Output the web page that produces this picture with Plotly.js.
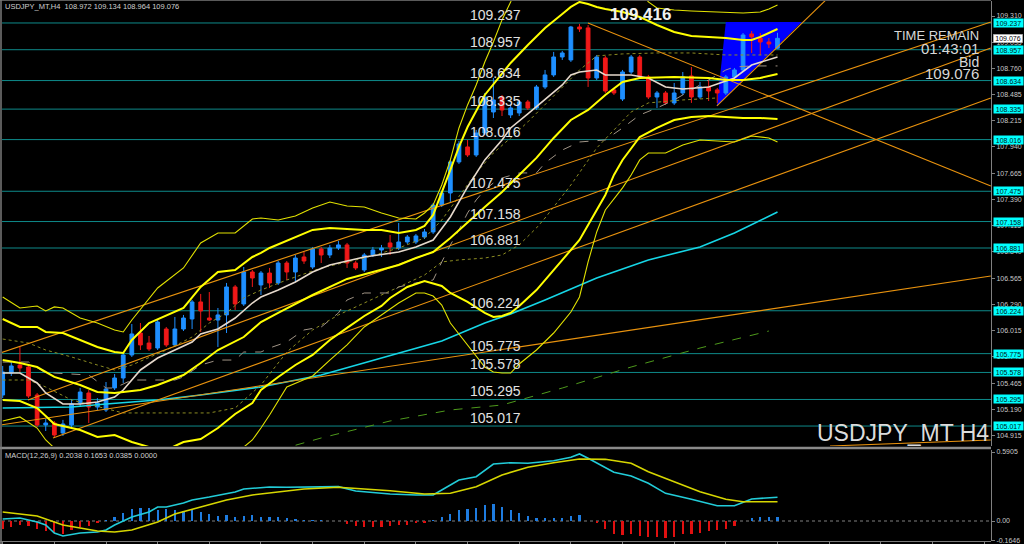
<!DOCTYPE html>
<html><head><meta charset="utf-8">
<script src="https://cdn.plot.ly/plotly-3.0.1.min.js"></script>
<style>html,body{margin:0;padding:0;background:#000;}#chart{width:1024px;height:544px;}</style>
</head><body><div id="chart"></div>
<script>
// ---------- candles (H4 bars, index 0..90) ----------
const openP = [105.342,105.572,105.656,105.635,105.342,105.028,105.049,104.944,105.028,105.258,
105.363,105.216,105.185,105.416,105.520,105.761,105.991,105.886,105.834,106.033,
105.866,106.033,106.138,106.316,106.148,106.127,106.180,106.473,106.295,106.630,
106.494,106.619,106.515,106.724,106.630,106.787,106.682,106.871,106.808,106.881,
106.913,106.724,106.651,106.808,106.860,106.934,106.881,106.944,106.944,106.996,
107.049,107.331,107.457,107.782,107.939,107.855,108.085,108.305,108.462,108.274,
108.295,108.410,108.347,108.567,108.693,108.881,108.850,109.195,109.185,108.661,
108.871,108.536,108.441,108.724,108.881,108.672,108.462,108.504,108.400,108.504,
108.682,108.462,108.567,108.536,108.504,108.672,108.745,109.122,109.080,109.038,108.972];
const highP = [105.646,105.688,105.845,105.656,105.363,105.091,105.070,105.081,105.300,105.416,
105.394,105.310,105.478,105.562,105.792,106.085,106.096,105.960,106.127,106.054,
106.159,106.180,106.337,106.400,106.420,106.253,106.515,106.494,106.682,106.651,
106.640,106.672,106.745,106.745,106.808,106.839,106.892,106.892,106.913,106.955,
106.934,106.745,106.829,106.892,106.913,107.017,107.143,107.017,107.028,107.080,
107.352,107.478,107.803,108.002,108.012,108.117,108.504,108.661,108.483,108.379,
108.431,108.431,108.588,108.745,108.934,108.944,109.206,109.227,109.216,108.902,
108.892,108.557,108.745,108.902,108.902,108.693,108.525,108.525,108.609,108.724,
108.776,108.619,108.640,108.557,108.693,108.766,109.132,109.153,109.132,109.080,109.134];
const lowP = [105.310,105.541,105.583,105.310,105.007,104.965,104.902,104.913,104.996,105.227,
105.049,105.185,105.164,105.394,105.468,105.740,105.813,105.803,105.813,105.845,
105.845,106.012,106.033,106.002,106.117,105.845,105.991,106.232,106.274,106.473,
106.389,106.462,106.494,106.546,106.525,106.714,106.661,106.724,106.776,106.860,
106.672,106.651,106.630,106.787,106.787,106.808,106.860,106.923,106.923,106.975,
107.028,107.310,107.352,107.761,107.834,107.834,108.064,108.242,108.263,108.242,
108.263,108.326,108.326,108.546,108.672,108.850,108.829,109.143,108.567,108.640,
108.504,108.483,108.420,108.703,108.651,108.441,108.347,108.379,108.379,108.483,
108.400,108.441,108.420,108.400,108.483,108.651,108.724,108.923,108.902,108.975,108.964];
const closeP = [105.583,105.646,105.625,105.331,105.028,105.049,104.923,105.038,105.248,105.373,
105.216,105.258,105.405,105.520,105.761,105.981,105.866,105.824,106.106,105.866,
106.033,106.148,106.316,106.222,106.127,106.180,106.473,106.295,106.630,106.567,
106.619,106.515,106.724,106.630,106.776,106.745,106.871,106.808,106.881,106.913,
106.724,106.672,106.808,106.860,106.881,106.892,106.944,106.996,107.007,107.049,
107.331,107.457,107.782,107.970,107.855,108.085,108.462,108.431,108.326,108.347,
108.410,108.347,108.567,108.693,108.881,108.923,109.195,109.174,108.661,108.881,
108.525,108.504,108.724,108.881,108.672,108.462,108.504,108.400,108.504,108.672,
108.462,108.567,108.525,108.504,108.672,108.745,109.111,109.091,109.038,109.017,109.076];
const bars = openP.map((_, i) => i);

// ---------- Bollinger-style bands (yellow) ----------
const bbUp3X = [0,2,4,5,6,7,9,11,13,14,15,18,21,23,25,27,29,30,32,34,36,38,40,42,44,46,48,49,50,51,52,53,54,55,56,57,58,59,60,62,66,70,72,74,75,76,78,80,84,86,88,89,90];
const bbUp3Y = [106.368,106.253,106.274,106.222,106.264,106.253,106.148,106.096,106.023,106.002,106.127,106.462,106.672,106.934,107.038,107.038,107.185,107.195,107.174,107.216,107.300,107.363,107.321,107.310,107.248,107.195,107.185,107.248,107.331,107.541,107.803,108.138,108.379,108.588,108.829,109.038,109.269,109.457,109.687,109.992,110.420,110.106,109.844,109.583,109.457,109.394,109.373,109.363,109.352,109.342,109.352,109.384,109.426];
const bbUp2X = [0,2,4,5,7,9,11,13,14,15,17,21,23,25,27,29,30,31,36,38,42,44,46,48,49,50,51,52,53,54,56,57,58,59,61,63,65,66,67,68,69,70,72,74,76,78,80,82,84,86,87,88,89,90];
const bbUp2Y = [106.138,106.054,106.054,106.002,105.991,105.918,105.845,105.792,105.782,105.918,106.096,106.253,106.473,106.630,106.651,106.787,106.829,106.881,107.070,107.091,107.070,107.070,107.038,107.070,107.112,107.227,107.457,107.698,107.939,108.148,108.483,108.598,108.703,108.818,109.007,109.185,109.331,109.405,109.457,109.436,109.405,109.384,109.352,109.300,109.216,109.143,109.101,109.091,109.080,109.059,109.059,109.091,109.132,109.174];
const bbMidX = [0,2,4,6,9,11,13,16,18,21,23,25,28,30,32,36,40,44,46,48,50,52,54,56,58,60,62,64,66,68,70,72,74,78,82,84,86,88,90];
const bbMidY = [105.708,105.677,105.635,105.531,105.447,105.373,105.363,105.394,105.447,105.551,105.677,105.813,105.949,106.106,106.201,106.389,106.557,106.651,106.703,106.776,106.839,106.986,107.153,107.310,107.468,107.646,107.824,108.033,108.221,108.326,108.483,108.619,108.661,108.672,108.661,108.640,108.640,108.661,108.703];
const bbLo2X = [0,2,4,6,9,11,13,15,17,19,21,23,25,27,29,30,32,34,36,38,40,42,44,45,47,49,51,52,54,56,57,58,59,60,62,63,64,66,67,68,70,71,72,74,76,78,80,82,84,86,88,90];
const bbLo2Y = [105.290,105.279,105.206,105.038,104.976,104.902,104.923,104.850,104.797,104.766,104.850,104.881,104.996,105.143,105.258,105.394,105.531,105.656,105.761,105.918,106.044,106.169,106.274,106.358,106.473,106.536,106.483,106.410,106.316,106.201,106.159,106.169,106.201,106.274,106.441,106.546,106.651,106.860,106.965,107.122,107.436,107.646,107.803,108.043,108.138,108.221,108.253,108.263,108.253,108.242,108.242,108.232];
const bbLo3X = [0,2,4,5,6,9,11,13,15,18,21,23,25,27,28,29,30,31,33,35,36,38,40,42,44,46,48,49,50,51,52,54,55,56,57,58,59,60,62,64,66,67,68,69,70,72,73,74,75,77,79,81,83,85,87,89,90];
const bbLo3Y = [105.070,105.112,104.996,104.871,104.787,104.714,104.640,104.661,104.578,104.452,104.505,104.557,104.682,104.745,104.797,104.871,104.996,105.132,105.426,105.499,105.541,105.708,105.866,106.054,106.180,106.305,106.410,106.410,106.378,106.284,106.096,105.866,105.740,105.635,105.583,105.572,105.572,105.667,105.813,105.991,106.211,106.368,106.735,107.049,107.279,107.510,107.646,107.803,107.876,107.876,107.960,108.012,108.002,107.991,108.054,108.033,107.991];

// ---------- moving averages ----------
const fastMaX = [0,2,4,5,7,9,11,13,14,16,18,20,22,23,25,27,29,30,32,34,36,38,42,46,48,50,52,54,56,58,59,61,63,65,66,67,69,70,73,75,77,79,82,85,87,90];
const fastMaY = [105.572,105.572,105.468,105.363,105.248,105.248,105.269,105.321,105.394,105.604,105.729,105.813,105.897,105.981,106.033,106.148,106.305,106.368,106.441,106.525,106.630,106.703,106.787,106.839,106.892,106.965,107.206,107.520,107.803,108.012,108.138,108.284,108.431,108.588,108.693,108.724,108.745,108.693,108.693,108.661,108.567,108.546,108.567,108.661,108.797,108.881];
const stepMaX = [0,3,5,6,10,12,13,15,20,21,23,25,27,28,30,31,33,35,37,39,40,42,45,46,48,50,51,52,53,54,55,56,57,58,60,62,63,65,67,70,72,74,76,78,80,82,84,85,87,90];
const stepMaY = [105.687,105.687,105.572,105.572,105.551,105.415,105.415,105.499,105.499,105.531,105.656,105.708,105.708,105.792,105.792,105.834,105.897,106.023,106.054,106.201,106.337,106.410,106.410,106.473,106.515,106.546,106.735,106.913,107.070,107.248,107.384,107.489,107.562,107.614,107.667,107.667,107.771,107.907,107.991,108.012,108.138,108.274,108.347,108.431,108.536,108.640,108.745,108.776,108.787,108.787];
const dotAX = [0,3,5,8,11,13,15,19,22,24,26,28,30,33,37,42,46,49,51,53,55,57,59,61,63,65,67,69,72,76,80,84,90];
const dotAY = [105.928,105.886,105.813,105.740,105.656,105.604,105.656,105.813,105.949,106.096,106.201,106.358,106.441,106.546,106.672,106.776,106.881,106.986,107.174,107.415,107.667,107.876,108.033,108.201,108.379,108.557,108.745,108.892,108.913,108.923,108.923,108.902,108.902];
const dotBX = [0,3,5,8,14,24,27,30,33,36,39,42,46,49,51,53,56,58,60,62,63,66,69,71,73,75,79,83];
const dotBY = [105.499,105.499,105.426,105.290,105.154,105.154,105.206,105.447,105.792,106.023,106.180,106.305,106.473,106.598,106.735,106.756,106.776,106.808,106.913,107.091,107.195,107.541,107.928,108.117,108.305,108.400,108.431,108.452];
const cyanMaX = [0,8,12,18,23,30,37,44,51,56,59,63,69,75,81,85,90];
const cyanMaY = [105.206,105.216,105.248,105.290,105.342,105.426,105.551,105.729,105.907,106.096,106.190,106.337,106.567,106.756,106.892,107.038,107.258];
const greenMaX = [30,33,37,45,52,58,65,73,81,89];
const greenMaY = [104.714,104.787,104.892,105.070,105.185,105.237,105.415,105.635,105.834,106.012];

// ---------- trend lines (bar index, price) ----------
const trendLines = [
  {x:[-0.31,114.78], y:[105.782,109.248]},
  {x:[2.94,114.78],  y:[105.290,108.975]},
  {x:[5.84,114.78],  y:[104.892,108.452]},
  {x:[-0.31,114.78], y:[105.028,106.588]},
  {x:[67.98,114.78], y:[109.237,107.530]},
  {x:[82.96,95.62],  y:[108.368,109.478]},
  {x:[96.1,114.78],  y:[104.808,104.871]}
];
const triX = [82.96, 84.0, 92.83];
const triY = [108.368, 109.248, 109.248];

// ---------- horizontal levels ----------
const levels = [109.237,108.957,108.634,108.335,108.016,107.475,107.158,106.881,106.224,105.775,105.578,105.295,105.017];
const bidPrice = 109.076;
const priceTicks = [109.310,109.035,108.760,108.485,108.215,107.940,107.665,107.390,107.115,106.840,106.565,106.290,106.015,105.740,105.465,105.190,104.915];

// ---------- MACD(12,26,9) ----------
const macdHist = [-0.068,-0.051,-0.034,-0.043,-0.068,-0.086,-0.103,-0.111,-0.077,-0.051,
-0.043,-0.017,0.009,0.034,0.068,0.103,0.111,0.111,0.094,0.103,
0.094,0.086,0.094,0.077,0.060,0.043,0.051,0.034,0.043,0.051,
0.034,0.034,0.034,0.023,0.017,0.009,0.009,0.006,0.003,0.002,
-0.026,-0.043,-0.051,-0.051,-0.051,-0.043,-0.034,-0.034,-0.017,-0.017,
0.009,0.034,0.060,0.094,0.103,0.111,0.137,0.146,0.120,0.094,
0.068,0.043,0.026,0.026,0.026,0.026,0.043,0.051,0.000,-0.017,
-0.068,-0.111,-0.120,-0.111,-0.128,-0.137,-0.137,-0.146,-0.137,-0.111,
-0.111,-0.103,-0.086,-0.077,-0.068,-0.043,0.000,0.026,0.034,0.034,0.0385];
const macdX = [0,2,4,5,6,7,9,11,12,13,15,17,18,19,21,22,24,27,28,31,33,36,39,41,45,48,50,51,53,55,57,59,61,64,66,67,68,71,73,75,77,80,83,85,87,90];
const macdY = [0.017,0.026,-0.009,-0.034,-0.103,-0.128,-0.103,-0.094,-0.077,-0.034,0.034,0.077,0.120,0.120,0.154,0.180,0.205,0.248,0.274,0.291,0.289,0.294,0.294,0.257,0.231,0.223,0.223,0.265,0.351,0.379,0.488,0.499,0.494,0.516,0.545,0.574,0.537,0.417,0.385,0.323,0.237,0.186,0.131,0.131,0.188,0.2038];
const sigX = [0,4,7,9,11,13,15,18,20,23,26,29,32,35,39,45,49,52,55,58,61,64,67,70,73,75,78,81,84,86,90];
const sigY = [0.077,0.043,-0.034,-0.060,-0.086,-0.094,-0.077,-0.009,0.060,0.120,0.180,0.223,0.248,0.274,0.289,0.259,0.231,0.237,0.294,0.394,0.460,0.499,0.531,0.528,0.494,0.422,0.336,0.251,0.186,0.165,0.1653];
const macdTicks = [0.5905, 0, -0.1646];
const macdTickText = ['0.5905', '0.00', '-0.1646'];

// ---------- layout helpers ----------
const W = 1024, H = 544, ML = 2, MR = 33;
const PW = W - ML - MR;
const px = v => (v - ML) / PW;
const py = v => (H - v) / H;
const FONT = 'Liberation Sans, Arial, sans-serif';

const traces = [];
traces.push({type:'candlestick', x:bars, open:openP, high:highP, low:lowP, close:closeP,
  xaxis:'x', yaxis:'y', whiskerwidth:0, hoverinfo:'skip',
  increasing:{line:{color:'#1E8FFF', width:1}, fillcolor:'#1E8FFF'},
  decreasing:{line:{color:'#F01818', width:1}, fillcolor:'#F01818'}});
function line(x, y, color, width, dash){
  traces.push({type:'scatter', mode:'lines', x:x, y:y, xaxis:'x', yaxis:'y', hoverinfo:'skip',
    line:{color:color, width:width, dash:dash || 'solid'}});
}
line(greenMaX, greenMaY, '#4E9A1C', 1, 'dash');
line(cyanMaX, cyanMaY, '#16D6E6', 1.6);
line(dotBX, dotBY, '#8C8C22', 1, 'dot');
line(dotAX, dotAY, '#8C8C22', 1, 'dot');
line(stepMaX, stepMaY, '#A09486', 1, 'dash');
trendLines.forEach(t => line(t.x, t.y, '#E8920E', 1.1));
line(fastMaX, fastMaY, '#E6D9CC', 1.6);
line(bbUp3X, bbUp3Y, '#E2E200', 1.1);
line(bbLo3X, bbLo3Y, '#E2E200', 1.1);
line(bbUp2X, bbUp2Y, '#FFFF00', 2);
line(bbLo2X, bbLo2Y, '#FFFF00', 2);
line(bbMidX, bbMidY, '#FFFF00', 2);

traces.push({type:'bar', x:bars, y:macdHist, xaxis:'x', yaxis:'y2', width:0.26, hoverinfo:'skip',
  marker:{color:macdHist.map(v => v >= 0 ? '#1E7CE0' : '#E01010'), line:{width:0}}});
traces.push({type:'scatter', mode:'lines', x:macdX, y:macdY, xaxis:'x', yaxis:'y2', hoverinfo:'skip', line:{color:'#22CCD8', width:1.6}});
traces.push({type:'scatter', mode:'lines', x:sigX, y:sigY, xaxis:'x', yaxis:'y2', hoverinfo:'skip', line:{color:'#D6D600', width:1.6}});

const shapes = [];
shapes.push({type:'path', xref:'x', yref:'y', layer:'below',
  path:'M' + triX[0] + ',' + triY[0] + ' L' + triX[1] + ',' + triY[1] + ' L' + triX[2] + ',' + triY[2] + ' Z',
  fillcolor:'#0000FF', line:{width:0}});
levels.forEach(v => shapes.push({type:'line', xref:'paper', yref:'y', x0:0, x1:1, y0:v, y1:v, layer:'below',
  line:{color:'#0E8A8A', width:1}}));
shapes.push({type:'line', xref:'paper', yref:'y2', x0:0, x1:1, y0:0, y1:0, layer:'below', line:{color:'#808080', width:1, dash:'dot'}});
shapes.push({type:'line', xref:'paper', yref:'paper', x0:px(0), x1:1, y0:py(448), y1:py(448), line:{color:'#8A8A8A', width:2.5}});
shapes.push({type:'line', xref:'paper', yref:'paper', x0:px(0), x1:1, y0:py(541.5), y1:py(541.5), line:{color:'#7A7A7A', width:1}});
shapes.push({type:'line', xref:'paper', yref:'paper', x0:px(0), x1:1, y0:py(0.5), y1:py(0.5), line:{color:'#5A5A5A', width:1}});
shapes.push({type:'line', xref:'paper', yref:'paper', x0:px(1), x1:px(1), y0:0, y1:1, line:{color:'#7A7A7A', width:1.5}});

const ann = [];
function txt(t, x, y, size, color, xa, ya, extra){
  ann.push(Object.assign({text:t, xref:'paper', yref:'paper', x:px(x), y:py(y), xanchor:xa, yanchor:ya,
    showarrow:false, font:{family:FONT, size:size, color:color}, borderpad:0}, extra || {}));
}
txt('USDJPY_MT,H4\u00a0\u00a0108.972 109.134 108.964 109.076', 4, 7, 7.5, '#D0D0D0', 'left', 'middle');
txt('MACD(12,26,9) 0.2038 0.1653 0.0385 0.0000', 4, 455, 7.5, '#D0D0D0', 'left', 'middle');
txt('109.416', 640, 14.5, 17, '#F0F0F0', 'center', 'middle', {font:{family:FONT, size:17, color:'#F0F0F0', weight:'bold'}});
txt('TIME REMAIN', 980, 36, 13, '#D8D8D8', 'right', 'middle');
txt('01:43:01', 980, 48, 15, '#D8D8D8', 'right', 'middle');
txt('Bid', 980, 62, 14, '#D8D8D8', 'right', 'middle');
txt('109.076', 980, 74, 15, '#D8D8D8', 'right', 'middle');
txt('USDJPY_MT H4', 990, 433, 23, '#DCDCDC', 'right', 'middle');

levels.forEach(v => ann.push({text:v.toFixed(3), xref:'paper', yref:'y', x:px(470), y:v, xanchor:'left', yanchor:'bottom',
  yshift:-1, xshift:-1, showarrow:false, borderpad:0, font:{family:FONT, size:14, color:'#E2E2E2'}}));
levels.forEach(v => ann.push({text:v.toFixed(3), xref:'paper', yref:'y', x:px(993), y:v, xanchor:'left', yanchor:'middle',
  width:29, height:8, showarrow:false, borderpad:0, bgcolor:'#00FFFF', font:{family:FONT, size:7, color:'#001818'}}));
ann.push({text:bidPrice.toFixed(3), xref:'paper', yref:'y', x:px(993), y:bidPrice, xanchor:'left', yanchor:'middle',
  width:29, height:8, showarrow:false, borderpad:0, bgcolor:'#FFFFFF', bordercolor:'#909090', borderwidth:0.5,
  font:{family:FONT, size:7, color:'#000'}});

const axFont = {family:FONT, size:7, color:'#C8C8C8'};
const xTicks = [];
for (let k = 0; k <= 114; k += 6) xTicks.push(k);
const layout = {
  width:W, height:H, paper_bgcolor:'#000', plot_bgcolor:'#000', showlegend:false,
  margin:{l:ML, r:MR, t:0, b:0}, boxgap:0.38, bargap:0,
  xaxis:{range:[-0.08, 114.8], anchor:'y2', showgrid:false, zeroline:false, showticklabels:false,
    ticks:'outside', ticklen:3, tickcolor:'#808080', tickvals:xTicks, showline:false,
    rangeslider:{visible:false}, fixedrange:true},
  yaxis:{domain:[py(446), py(1)], range:[104.808, 109.467], side:'right', anchor:'x',
    showgrid:false, zeroline:false, showline:true, linecolor:'#808080', linewidth:1,
    ticks:'outside', ticklen:3, tickcolor:'#808080', tickvals:priceTicks, ticklabeloverflow:'allow',
    ticktext:priceTicks.map(v => v.toFixed(3)), tickfont:axFont, fixedrange:true},
  yaxis2:{domain:[py(541), py(450)], range:[-0.1712, 0.6079], side:'right', anchor:'x',
    showgrid:false, zeroline:false, showline:true, linecolor:'#808080', linewidth:1, ticklabeloverflow:'allow',
    ticks:'outside', ticklen:3, tickcolor:'#808080', tickvals:macdTicks, ticktext:macdTickText,
    tickfont:axFont, fixedrange:true},
  shapes:shapes, annotations:ann
};
Plotly.newPlot('chart', traces, layout, {staticPlot:true, displayModeBar:false});
</script>
</body></html>
